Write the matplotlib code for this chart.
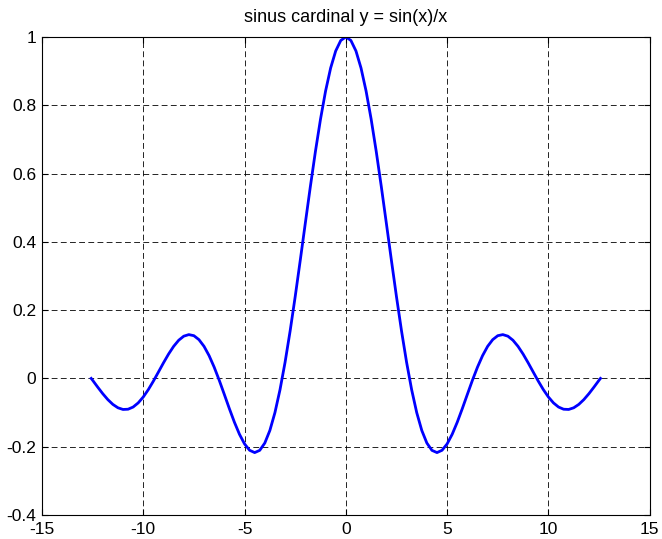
import matplotlib
matplotlib.use('Agg')
import matplotlib.pyplot as plt

# values (curve is symmetric about x = 0)
x_pos = [0.0, 0.25, 0.5, 0.75, 1.0, 1.25, 1.5, 1.75, 2.0, 2.25, 2.5, 2.75,
         3.0, 3.25, 3.5, 3.75, 4.0, 4.25, 4.5, 4.75, 5.0, 5.25, 5.5, 5.75,
         6.0, 6.25, 6.5, 6.75, 7.0, 7.25, 7.5, 7.75, 8.0, 8.25, 8.5, 8.75,
         9.0, 9.25, 9.5, 9.75, 10.0, 10.25, 10.5, 10.75, 11.0, 11.25, 11.5,
         11.75, 12.0, 12.25, 12.5, 12.57]
y_pos = [1.0, 0.9896, 0.9589, 0.9089, 0.8415, 0.7592, 0.6650, 0.5623,
         0.4546, 0.3458, 0.2394, 0.1388, 0.0470, -0.0333, -0.1002, -0.1524,
         -0.1892, -0.2106, -0.2172, -0.2104, -0.1918, -0.1636, -0.1283,
         -0.0884, -0.0466, -0.0053, 0.0331, 0.0667, 0.0939, 0.1135, 0.1251,
         0.1283, 0.1237, 0.1118, 0.0939, 0.0714, 0.0458, 0.0188, -0.0079,
         -0.0328, -0.0544, -0.0717, -0.0838, -0.0902, -0.0909, -0.0860,
         -0.0761, -0.0620, -0.0447, -0.0254, -0.0053, 0.0]

x_vals = [-v for v in x_pos[:0:-1]] + x_pos
y_vals = y_pos[:0:-1] + y_pos

x_ticks = [-15, -10, -5, 0, 5, 10, 15]
y_ticks = [-0.4, -0.2, 0, 0.2, 0.4, 0.6, 0.8, 1]
y_labels = ['-0.4', '-0.2', '0', '0.2', '0.4', '0.6', '0.8', '1']

plt.rcParams['font.family'] = ['Liberation Sans', 'DejaVu Sans']

fig = plt.figure(figsize=(6.62, 5.39), dpi=100)
ax = fig.add_axes([0.0634, 0.0445, 0.918, 0.887])
ax.plot(x_vals, y_vals, color='#0000ff', linewidth=2)

ax.set_xlim(-15, 15)
ax.set_ylim(-0.4, 1)
ax.set_xticks(x_ticks)
ax.set_xticklabels([str(t) for t in x_ticks])
ax.set_yticks(y_ticks)
ax.set_yticklabels(y_labels)
ax.tick_params(direction='in', labelsize=12.5, length=4, top=True, right=True)
ax.tick_params(axis='x', pad=5)
ax.tick_params(axis='y', pad=4)
ax.grid(True, color='black', linestyle=(0, (7, 4)), linewidth=0.6)
for s in ax.spines.values():
    s.set_linewidth(0.8)
ax.set_title('sinus cardinal y = sin(x)/x', fontsize=13, pad=11)

fig.savefig('out.png', dpi=100)
